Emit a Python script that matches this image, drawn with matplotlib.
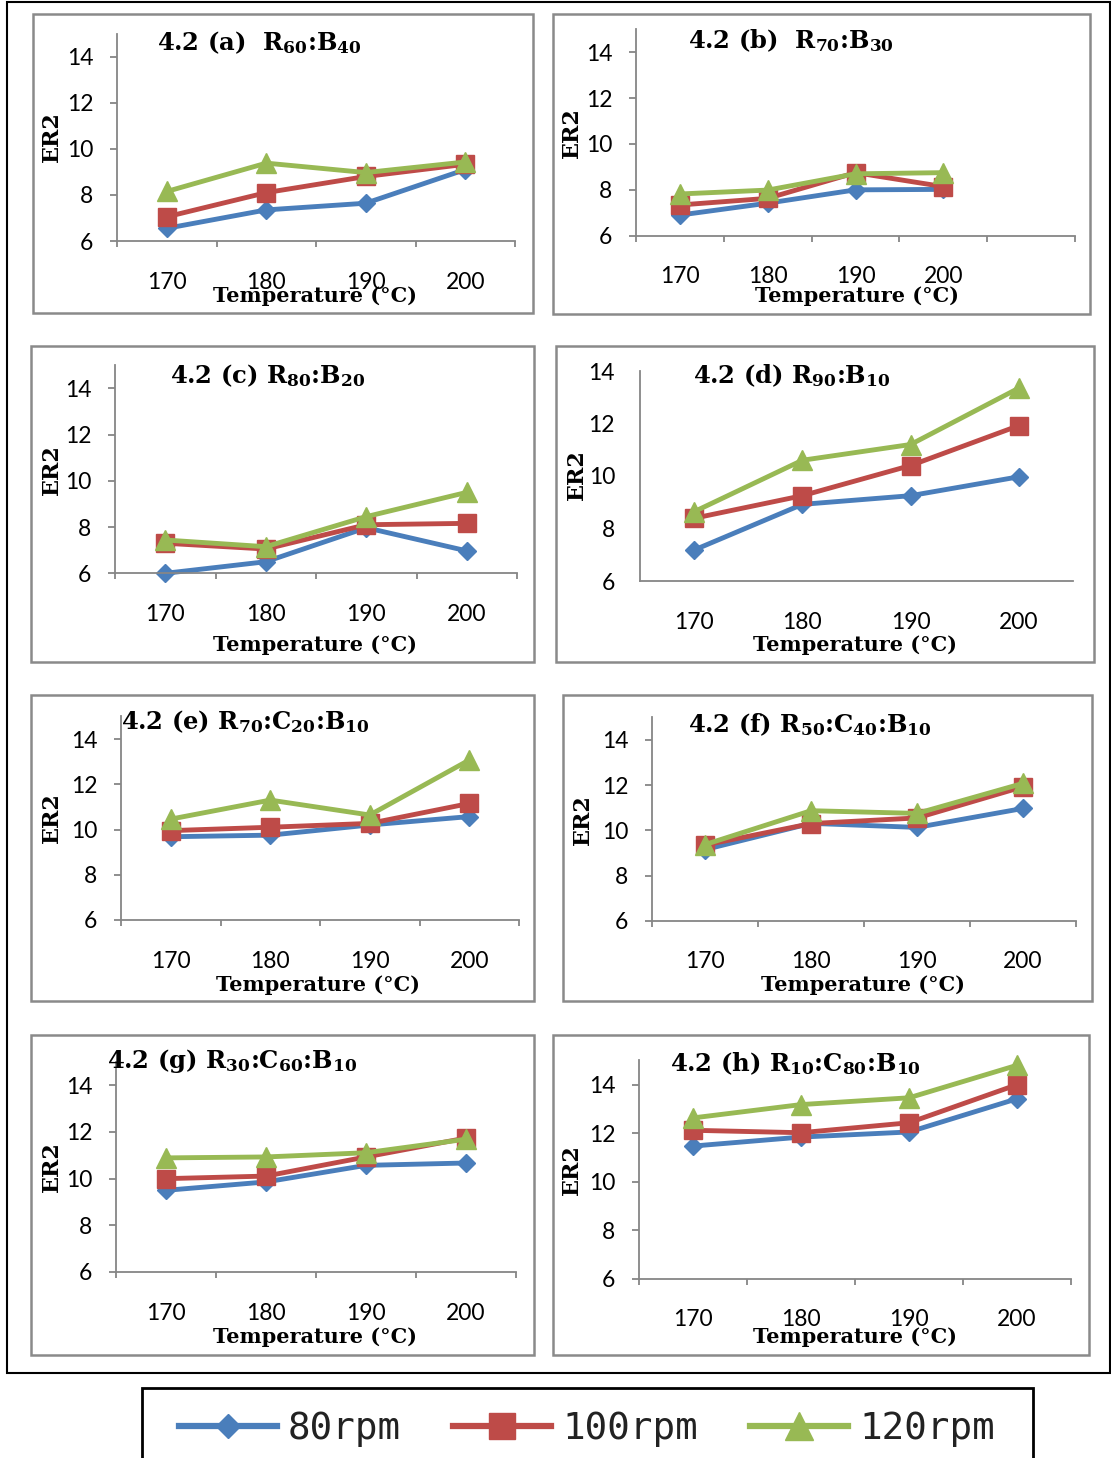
import numpy as np
import matplotlib
matplotlib.use("Agg")
import matplotlib.pyplot as plt
from matplotlib.lines import Line2D
from matplotlib.patches import Rectangle

W, H = 1111, 1458

# ---- data ----
temps = ['170', '180', '190', '200']
titles = [r'4.2 (a)  R$_{60}$:B$_{40}$',
          r'4.2 (b)  R$_{70}$:B$_{30}$',
          r'4.2 (c) R$_{80}$:B$_{20}$',
          r'4.2 (d) R$_{90}$:B$_{10}$',
          r'4.2 (e) R$_{70}$:C$_{20}$:B$_{10}$',
          r'4.2 (f) R$_{50}$:C$_{40}$:B$_{10}$',
          r'4.2 (g) R$_{30}$:C$_{60}$:B$_{10}$',
          r'4.2 (h) R$_{10}$:C$_{80}$:B$_{10}$']
er2_80rpm = [[6.55, 7.35, 7.64, 9.10],
             [6.90, 7.42, 8.00, 8.02],
             [6.00, 6.50, 7.97, 6.97],
             [7.18, 8.92, 9.25, 9.97],
             [9.68, 9.75, 10.20, 10.57],
             [9.15, 10.31, 10.13, 10.97],
             [9.50, 9.86, 10.57, 10.67],
             [11.47, 11.84, 12.05, 13.42]]
er2_100rpm = [[7.05, 8.10, 8.80, 9.33],
              [7.34, 7.63, 8.75, 8.14],
              [7.30, 7.05, 8.10, 8.16],
              [8.39, 9.25, 10.40, 11.92],
              [9.95, 10.10, 10.27, 11.15],
              [9.35, 10.30, 10.55, 11.93],
              [10.00, 10.11, 10.93, 11.74],
              [12.12, 12.02, 12.43, 14.00]]
er2_120rpm = [[8.15, 9.38, 8.97, 9.43],
              [7.82, 7.99, 8.70, 8.75],
              [7.44, 7.15, 8.45, 9.50],
              [8.64, 10.60, 11.20, 13.35],
              [10.46, 11.30, 10.64, 13.07],
              [9.37, 10.87, 10.75, 12.08],
              [10.89, 10.93, 11.11, 11.69],
              [12.63, 13.18, 13.46, 14.80]]
rpm_labels = ['80rpm', '100rpm', '120rpm']

# ---- layout (pixels) ----
# box, (left, right, y6, y14), ymax, slots, ticks, title(x, baseline), er2(x, y), xlabel(x, y)
panels = [
    ((33, 14, 533, 313), (117, 515, 241, 56.7), 15, 4, True, (157, 50), (52, 137), (315, 296)),
    ((553, 14, 1090, 314), (636, 1075, 235.7, 52.3), 15, 5, True, (688, 48), (572, 133), (857, 296)),
    ((31, 346, 534, 662), (115, 517, 573.3, 388.3), 15, 4, True, (170, 383), (52, 470), (315, 645)),
    ((556, 346, 1094, 662), (640, 1073, 581, 371), 14, 4, False, (693, 383), (577, 475), (855, 645)),
    ((31, 695, 534, 1001), (121, 519, 920, 739), 15, 4, True, (121, 729), (52, 818), (318, 985)),
    ((563, 695, 1092, 1001), (652, 1076, 920.7, 740), 15, 4, True, (688, 732), (583, 820), (863, 985)),
    ((31, 1035, 534, 1355), (116, 516, 1272, 1085.3), 15, 4, True, (107, 1068), (52, 1167), (315, 1337)),
    ((553, 1035, 1089, 1355), (639, 1071, 1278.7, 1084.7), 15, 4, True, (670, 1071), (572, 1170), (855, 1337)),
]

colors = ['#4a7ebb', '#be4b48', '#98b954']
markers = [('D', 9), ('s', 13), ('^', 14)]
axis_gray = '#868686'

plt.rcParams['mathtext.fontset'] = 'custom'
plt.rcParams['mathtext.rm'] = 'DejaVu Serif:bold'
plt.rcParams['mathtext.it'] = 'DejaVu Serif:bold'
plt.rcParams['mathtext.bf'] = 'DejaVu Serif:bold'


def fx(x):
    return x / W


def fy(y):
    return 1 - y / H


fig = plt.figure(figsize=(W / 100, H / 100), dpi=100)

# outer black frame
fig.patches.append(Rectangle((fx(7), fy(1373)), (1110 - 7) / W, (1373 - 2) / H,
                             transform=fig.transFigure, fill=False, ec='black', lw=1.5))

for i, (box, geo, ymax, nslots, ticks, tpos, epos, xpos) in enumerate(panels):
    bx0, by0, bx1, by1 = box
    fig.patches.append(Rectangle((fx(bx0), fy(by1)), (bx1 - bx0) / W, (by1 - by0) / H,
                                 transform=fig.transFigure, fill=False,
                                 ec='#8a8a8a', lw=1.8))
    left, right, y6, y14 = geo
    top = y6 - (y6 - y14) * (ymax - 6) / 8
    ax = fig.add_axes([fx(left), fy(y6), (right - left) / W, (y6 - top) / H])
    ax.patch.set_visible(False)

    x = np.arange(len(temps))
    for vals, c, (m, ms) in zip([er2_80rpm[i], er2_100rpm[i], er2_120rpm[i]], colors, markers):
        ax.plot(x, vals, color=c, lw=3.5, marker=m, ms=ms, mfc=c, mec=c, clip_on=False)

    ax.set_xlim(-0.5, nslots - 0.5)
    ax.set_ylim(6, ymax)
    ax.set_yticks([6, 8, 10, 12, 14])
    ax.set_xticks(x)
    ax.set_xticklabels(temps)
    for s in ['top', 'right']:
        ax.spines[s].set_visible(False)
    for s in ['left', 'bottom']:
        ax.spines[s].set_color(axis_gray)
        ax.spines[s].set_linewidth(1.3)

    ax.tick_params(axis='x', which='major', length=0, pad=22, labelsize=16.5, labelcolor='black')
    if ticks:
        ax.set_xticks(np.arange(nslots + 1) - 0.5, minor=True)
        ax.tick_params(axis='x', which='minor', direction='out', length=4.5, width=1.3, color=axis_gray)
        ax.tick_params(axis='y', direction='out', length=5, width=1.3, color=axis_gray, pad=12,
                       labelsize=16.5)
    else:
        ax.tick_params(axis='y', length=0, pad=18, labelsize=16.5)
    for lab in ax.get_xticklabels() + ax.get_yticklabels():
        lab.set_family('Lato')

    fig.text(fx(tpos[0]), fy(tpos[1]), titles[i], family='DejaVu Serif', weight='bold',
             fontsize=17.5, ha='left', va='baseline')
    fig.text(fx(epos[0]), fy(epos[1]), 'ER2', family='DejaVu Serif', weight='bold',
             fontsize=16, rotation=90, ha='center', va='center')
    fig.text(fx(xpos[0]), fy(xpos[1]), 'Temperature (°C)', family='DejaVu Serif', weight='bold',
             fontsize=15, ha='center', va='center')

# legend box at the bottom
fig.patches.append(Rectangle((fx(142), fy(1475)), (1033 - 142) / W, (1475 - 1388) / H,
                             transform=fig.transFigure, fill=False, ec='black', lw=2))
handles = [Line2D([], [], color=c, lw=4.5, marker=m, ms=ms * 1.4, mfc=c, mec=c)
           for c, (m, ms) in zip(colors, markers)]
fig.legend(handles, rpm_labels, loc='center', bbox_to_anchor=(fx(587), fy(1429)), ncol=3,
           frameon=False, prop={'family': 'DejaVu Sans Mono', 'size': 27},
           handlelength=2.6, handletextpad=0.3, columnspacing=1.4, labelcolor='#222222')

fig.savefig('out.png', dpi=100)
